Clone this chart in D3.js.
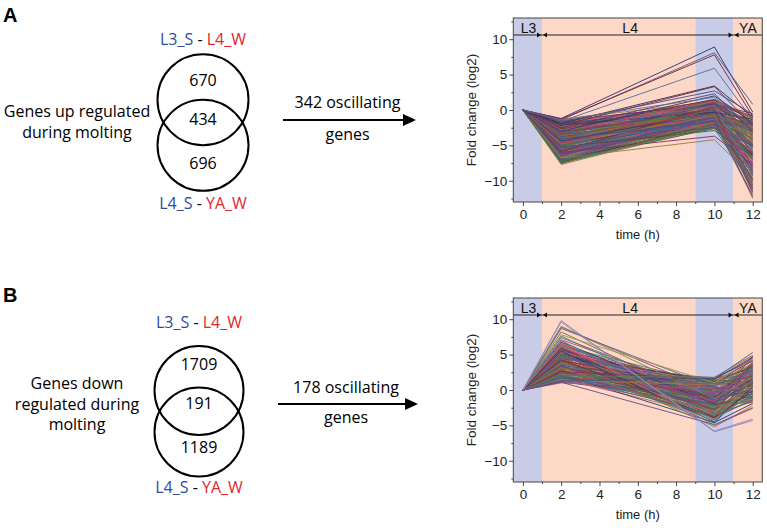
<!DOCTYPE html>
<html><head><meta charset="utf-8">
<script src="https://cdn.jsdelivr.net/npm/d3@7"></script>
<style>body{margin:0;background:#fff}svg{display:block}</style>
</head><body><svg id="c" width="767" height="528"></svg>
<script>
// ---------- data ----------
const timePoints = [0, 2, 10, 12];
const xTicks = [0, 2, 4, 6, 8, 10, 12];
const yTicks = [-10, -5, 0, 5, 10];
const stages = [{name:"L3", from:-0.5, to:1, shade:"blue"}, {name:"L4", from:1, to:9, shade:"red"}, {name:"L4b", from:9, to:11, shade:"blue"}, {name:"YA", from:11, to:12.5, shade:"red"}];
const stageLabels = [{t:"L3", x:0.3}, {t:"L4", x:5.6}, {t:"YA", x:11.75}];
const vennA = {label:["Genes up regulated","during molting"], top:670, mid:434, bottom:696, arrow:"342 oscillating"};
const vennB = {label:["Genes down","regulated during","molting"], top:1709, mid:191, bottom:1189, arrow:"178 oscillating"};
// each gene: log2 fold change at t = 2, 10, 12 (t=0 is 0)
const genesUp = [
[-1.5,-0.9,-3.0],[-1.7,1.0,-2.0],[-2.0,-1.3,-5.2],[-2.3,0.4,-1.6],[-2.6,-2.0,-7.5],[-2.9,1.3,-4.4],[-3.1,-0.2,-2.3],[-3.4,-1.7,-8.4],[-3.6,1.0,-3.1],[-3.9,-0.7,-6.9],
[-4.1,0.9,-1.9],[-4.3,-2.4,-4.7],[-4.5,-0.4,-9.2],[-4.7,1.2,-5.0],[-4.9,-1.1,-2.6],[-5.1,-2.1,-6.3],[-5.3,0.3,-4.1],[-5.5,-0.7,-10.2],[-5.7,-1.9,-3.5],[-5.9,0.9,-7.3],
[-6.1,-0.5,-5.2],[-6.3,-2.2,-8.3],[-6.5,0.0,-3.7],[-6.7,-1.1,-6.5],[-6.9,-2.3,-9.4],[-7.1,-1.6,-4.8],[-7.3,-0.4,-7.6],[-7.5,-2.5,-5.7],[-7.6,-1.0,-9.8],[-7.2,-1.9,-3.9],
[-1.9,0.7,-0.8],[-2.4,-0.1,-3.3],[-2.8,-1.3,-4.6],[-3.3,0.5,-6.1],[-3.7,-2.2,-5.1],[-4.2,-0.1,-8.7],[-4.6,-1.0,-1.8],[-5.0,0.8,-5.9],[-5.4,-1.5,-4.3],[-5.8,-2.3,-7.0],
[-6.2,-0.9,-10.6],[-6.6,0.4,-4.9],[-7.0,-1.3,-8.1],[-2.2,1.4,-2.6],[-3.5,-1.0,-9.9],[-4.8,0.2,-11.3],[-5.6,-0.3,-11.8],[-6.4,-1.8,-12.3],[-3.0,-0.3,-10.9],[-4.0,-1.9,-11.0],
[-2.0,-2.0,-1.5],[-3.2,-2.5,-3.0],[-4.4,1.4,-2.0],[-5.2,1.0,-1.2],[-6.0,-2.6,-5.0],[-6.8,-0.2,-2.8],[-7.4,-0.8,-4.1],[-1.6,-1.6,-6.2],[-2.6,-0.9,-8.9],[-3.8,0.3,-7.9],
[-1.3,1.2,-1.2],[-1.5,0.8,-0.5],[-2.0,0.5,-2.8],[-2.4,1.0,-3.5],[-2.8,0.1,-4.2],[-3.1,-0.4,-5.0],[-3.4,1.4,-1.5],[-3.7,0.3,-6.0],[-4.0,-0.9,-3.2],[-4.3,-1.3,-7.1],
[-4.6,-0.2,-4.8],[-4.9,-1.8,-5.5],[-5.2,-0.6,-8.2],[-5.5,-2.0,-6.8],[-5.8,-1.0,-2.5],[-6.1,-2.3,-7.4],[-6.4,-0.3,-8.8],[-6.7,-1.5,-5.9],[-7.0,-2.4,-9.0],[-7.4,-1.9,-6.3],
[-7.7,-2.2,-8.5],[-1.8,-0.7,-1.9],[-2.2,-1.1,-3.9],[-2.6,0.9,-2.1],[-3.0,-1.6,-6.6],[-3.3,0.0,-3.6],[-3.6,-2.1,-4.5],[-3.9,0.7,-5.3],[-4.2,-0.5,-2.9],[-4.5,1.1,-6.2],
[-4.8,-1.4,-4.0],[-5.1,0.4,-7.7],[-5.4,-2.4,-5.1],[-5.7,-0.1,-3.8],[-6.0,-1.7,-9.6],[-6.3,0.2,-6.9],[-6.6,-2.5,-4.4],[-6.9,-0.8,-7.9],[-7.3,-1.2,-5.6],[-1.6,0.3,-1.4],
[-2.1,-0.3,-2.4],[-2.7,1.5,-1.1],[-3.2,-0.8,-5.7],[-3.8,-1.5,-2.7],[-4.4,0.6,-4.6],[-4.7,-2.2,-8.0],[-5.0,-0.9,-6.4],[-5.3,1.3,-3.3],[-5.6,-1.3,-7.2],[-5.9,-0.4,-5.4],
[-6.2,-2.0,-6.1],[-6.5,-1.0,-8.6],[-2.3,-1.9,-4.9],[-2.9,-0.6,-7.0],[-3.5,0.8,-2.0],[-4.1,-2.3,-5.8],[-4.6,0.1,-3.0],[-5.0,-1.6,-9.1],[-3.9,-1.2,-1.6],[-2.5,-1.5,-6.0],
[-1.9,0.0,-4.3],[-3.0,1.2,-0.9],[-4.4,-0.3,-1.3],[-5.8,0.5,-2.2],[-6.8,-1.8,-3.4],[-7.1,-0.6,-6.7],
[-6.8,-4.2,-9.5],[-6.0,-3.7,-7.8],[-5.2,-2.9,-6.5],[-7.2,-2.6,-10.8],
[-4.8,-0.8,-12.5],[-4.1,-1.6,-12.1],[-3.2,0.2,-11.6],[-6.2,-1.4,-11.2],[-3.6,-0.5,-10.4],[-7.5,-2.1,-10.1],[-5.5,-1.1,-9.8],[-2.8,0.6,-9.3],
[-1.2,8.9,-0.3],[-1.4,8.1,0.8],[-1.3,7.8,-0.9],[-1.6,5.9,-1.4],[-1.9,3.4,-1.0],[-2.2,3.3,-2.2],[-1.7,2.7,-0.6],[-2.5,2.3,-3.1],[-3.0,2.0,-1.8],[-1.4,1.8,-2.5]
];
const genesDown = [
[1.1,-0.9,2.4],[1.3,0.5,-0.7],[1.5,-2.2,1.6],[1.7,1.2,3.2],[1.9,-0.6,-1.0],[2.1,-2.9,2.6],[2.3,0.8,0.5],[2.5,-1.6,3.9],[2.7,-3.3,-0.4],[2.9,1.0,1.8],
[3.1,-0.3,3.0],[3.3,-2.6,-1.4],[3.5,1.2,4.1],[3.7,-1.5,0.9],[3.9,-3.9,1.9],[4.1,0.6,2.9],[4.3,-0.8,-0.9],[4.5,-2.7,3.3],[4.7,1.4,1.1],[4.9,-3.2,0.3],
[5.1,-0.2,4.4],[5.3,-2.1,-0.5],[5.5,0.9,2.0],[5.7,-1.3,3.6],[5.9,-2.9,1.2],[6.1,0.3,-0.2],[6.4,-1.8,4.8],[6.7,-3.4,0.6],[7.1,-0.5,3.0],[7.6,-2.4,1.5],
[8.2,-1.9,2.2],[8.9,-0.3,1.0],[1.2,-1.9,-1.8],[1.6,-3.7,0.8],[2.2,-4.6,-1.9],[2.8,-3.9,2.5],[3.4,-4.1,-0.6],[4.0,-4.7,1.0],[4.6,-5.2,-2.2],[5.0,-4.0,0.0],
[1.4,1.7,4.2],[2.4,1.6,3.1],[3.6,1.7,2.6],[4.4,1.5,4.5],[1.8,0.2,-1.3],[2.6,-1.1,-0.1],[3.8,0.0,1.6],[4.8,-0.9,3.5],[5.6,-0.8,0.7],[6.0,-1.0,2.7],
[6.5,-1.5,2.2],[6.2,0.8,3.6],[6.0,-2.6,0.4],[5.8,-0.3,1.5],[5.6,-3.3,-1.0],[5.4,0.5,4.2],[5.2,-1.8,0.9],[5.0,1.2,3.3],[4.8,-2.2,-1.5],[4.6,-0.6,2.8],
[4.4,-3.6,-0.8],[4.2,0.2,1.2],[4.0,-1.1,3.9],[3.8,-2.9,0.1],[3.6,1.4,2.4],[3.4,-0.9,-0.3],[3.2,-2.4,1.7],[3.0,0.6,4.6],[2.8,-1.4,0.6],[2.6,-3.1,-1.2],
[2.4,0.0,2.0],[2.2,-1.9,3.1],[2.0,-0.4,0.3],[1.8,-2.7,-0.6],[1.6,0.9,1.9],[1.4,-1.6,2.9],[1.2,-0.7,-0.2],[1.0,0.3,1.0],[6.8,-2.0,3.5],[5.9,-3.8,-1.4],
[5.1,-2.5,2.5],[4.5,1.0,0.8],[3.9,-3.4,0.5],[3.3,-1.2,3.7],[2.7,-2.1,-0.9],[2.1,1.1,2.7],[1.5,-3.0,0.0],[4.9,-1.0,1.6],[4.1,-2.8,2.1],[3.5,0.4,-0.4],
[2.9,-3.7,1.3],[2.3,-0.2,3.4],[1.7,-1.3,1.4],[5.3,0.1,0.2],[4.7,-1.7,4.0],[3.7,-2.3,-1.1],[3.1,1.3,0.7],[2.5,-0.5,2.3],[1.9,-2.0,1.1],[6.3,-4.0,-1.3],
[5.5,-4.5,0.4],[4.3,-3.9,-0.1],[3.2,-4.3,1.5],[2.0,-3.5,-1.6],[1.4,0.7,3.8],[2.6,1.5,4.7],
[9.0,-1.2,1.8],[8.7,0.4,3.0],[7.8,1.0,4.4],[7.4,-0.8,2.6],[7.0,-4.2,-0.5],[6.6,-5.0,-2.6],[1.3,1.6,5.3],[2.0,1.8,4.9],[1.1,-4.9,-2.5],
[9.8,-5.9,-4.3],[9.6,-5.8,-4.1]
];
const palette = ["#8b3a4a","#5c4a8c","#a0522d","#5b7a3a","#3b5b8c","#8c5d8c","#b04a5a","#3f7a7a","#7a6a3a","#9a3a8a","#5a5a7a","#c05a6a","#2f3a6a","#7a3030","#6a8a4a","#2a6a8a","#a07a3a","#8a2a5a","#5a4a3a","#3a7a5a","#b0606a","#4a4a90"];

// ---------- drawing ----------
const svg = d3.select("#c");
svg.append("rect").attr("width",767).attr("height",528).attr("fill","#fff");
const BLUE = "#2f4c9c", RED = "#e2262e";
const venFont = "'Open Sans', sans-serif";
const chartFont = "'Liberation Sans', Arial, sans-serif";

function panel(dy, letter, venn, labelBaselines, genes, vennGeom, lastColors) {
  const g = svg.append("g");
  g.append("text").attr("x",3).attr("y",22+dy).attr("font-family",chartFont).attr("font-weight","bold").attr("font-size",20).text(letter);
  const setLbl = (y, a, b) => {
    const t = g.append("text").attr("x",vennGeom.cx).attr("y",y).attr("text-anchor","middle").attr("font-family",venFont).attr("font-size",16);
    t.append("tspan").attr("fill",BLUE).text(a);
    t.append("tspan").attr("fill","#000").text(" - ");
    t.append("tspan").attr("fill",RED).text(b);
  };
  setLbl(vennGeom.topLbl, "L3_S", "L4_W");
  setLbl(vennGeom.botLbl, "L4_S", "YA_W");
  [vennGeom.cy1, vennGeom.cy2].forEach(cy => g.append("circle").attr("cx",vennGeom.cx).attr("cy",cy).attr("r",vennGeom.r).attr("fill","none").attr("stroke","#000").attr("stroke-width",2));
  [[venn.top,vennGeom.n1],[venn.mid,vennGeom.n2],[venn.bottom,vennGeom.n3]].forEach(([v,y]) =>
    g.append("text").attr("x",vennGeom.cx).attr("y",y).attr("text-anchor","middle").attr("font-family",venFont).attr("font-size",16).text(v));
  venn.label.forEach((s,i) => g.append("text").attr("x",77).attr("y",labelBaselines[i]).attr("text-anchor","middle").attr("font-family",venFont).attr("font-size",16).text(s));
  const ag = vennGeom.arrow;
  g.append("line").attr("x1",ag.x1).attr("x2",ag.x2-10).attr("y1",ag.y).attr("y2",ag.y).attr("stroke","#000").attr("stroke-width",2);
  g.append("path").attr("d",`M${ag.x2},${ag.y}L${ag.x2-13},${ag.y-6}L${ag.x2-13},${ag.y+6}Z`).attr("fill","#000");
  g.append("text").attr("x",(ag.x1+ag.x2)/2-2).attr("y",ag.t1).attr("text-anchor","middle").attr("font-family",venFont).attr("font-size",16).text(venn.arrow);
  g.append("text").attr("x",(ag.x1+ag.x2)/2-2).attr("y",ag.t2).attr("text-anchor","middle").attr("font-family",venFont).attr("font-size",16).text("genes");

  const x = d3.scaleLinear().domain([-0.5,12.5]).range([513.3,762.3]);
  const y = d3.scaleLinear().domain([-13,13]).range([202+dy,18+dy]);
  const cg = g.append("g");
  cg.selectAll("rect.st").data(stages).join("rect")
    .attr("x",d=>x(d.from)).attr("width",d=>x(d.to)-x(d.from))
    .attr("y",y(13)).attr("height",y(-13)-y(13))
    .attr("fill",d=>d.shade==="blue"?"#c9cce6":"#fdd8c7");
  const line = d3.line().x((d,i)=>x(timePoints[i])).y(d=>y(d));
  const n = genes.length;
  cg.selectAll("path.gene").data(genes).join("path")
    .attr("d",d=>line([0,...d])).attr("fill","none")
    .attr("stroke",(d,i)=> i >= n-lastColors.length ? lastColors[i-(n-lastColors.length)] : palette[i%palette.length])
    .attr("stroke-width",1).attr("stroke-opacity",0.9);
  const yl = y(10.6);
  cg.append("line").attr("x1",x(-0.5)).attr("x2",x(12.5)).attr("y1",yl).attr("y2",yl).attr("stroke","#222").attr("stroke-width",1);
  [1,11].forEach(t => {
    const xc = x(t);
    cg.append("path").attr("d",`M${xc-1},${yl}L${xc-5},${yl-2.5}L${xc-5},${yl+2.5}Z`).attr("fill","#111");
    cg.append("path").attr("d",`M${xc+1},${yl}L${xc+5},${yl-2.5}L${xc+5},${yl+2.5}Z`).attr("fill","#111");
  });
  stageLabels.forEach(s => cg.append("text").attr("x",x(s.x)).attr("y",yl-1.5).attr("text-anchor","middle").attr("font-family",chartFont).attr("font-size",14).attr("fill","#111").text(s.t));
  cg.append("rect").attr("x",x(-0.5)).attr("y",y(13)).attr("width",x(12.5)-x(-0.5)).attr("height",y(-13)-y(13)).attr("fill","none").attr("stroke","#444").attr("stroke-width",1);
  const xa = cg.append("g").attr("transform",`translate(0,${y(-13)})`)
    .call(d3.axisBottom(x).tickValues(xTicks).tickSize(4).tickPadding(3));
  const xm = cg.append("g").attr("transform",`translate(0,${y(-13)})`)
    .call(d3.axisBottom(x).tickValues([1,3,5,7,9,11]).tickSize(2).tickFormat(""));
  const ya = cg.append("g").attr("transform",`translate(${x(-0.5)},0)`)
    .call(d3.axisLeft(y).tickValues(yTicks).tickSize(4).tickPadding(2));
  const ym = cg.append("g").attr("transform",`translate(${x(-0.5)},0)`)
    .call(d3.axisLeft(y).tickValues([-12.5,-7.5,-2.5,2.5,7.5,12.5]).tickSize(2).tickFormat(""));
  [xa,xm,ya,ym].forEach(a => {
    a.select(".domain").remove();
    a.selectAll("line").attr("stroke","#444");
    a.selectAll("text").attr("font-family",chartFont).attr("font-size",13.5).attr("fill","#222");
  });
  cg.append("text").attr("x",(x(-0.5)+x(12.5))/2).attr("y",239+dy).attr("text-anchor","middle").attr("font-family",chartFont).attr("font-size",13).attr("fill","#222").text("time (h)");
  cg.append("text").attr("transform",`translate(475.5,${(y(13)+y(-13))/2}) rotate(-90)`).attr("text-anchor","middle").attr("font-family",chartFont).attr("font-size",13.5).attr("fill","#222").text("Fold change (log2)");
}

panel(0, "A", vennA, [117,138], genesUp,
  {cx:203, cy1:99.7, cy2:145.3, r:45.5, topLbl:45, botLbl:209, n1:85.5, n2:124.5, n3:168.5,
   arrow:{x1:283, x2:416, y:120, t1:108, t2:140}},
  ["#2b2f6e","#4a5a8c","#7a1f2b","#5a6a9a","#3a2a5a","#6a2a3a","#3b4b8c","#5a3a6a","#2a3a7a","#6a6a8a"]);
panel(280, "B", vennB, [389,410,430], genesDown,
  {cx:199, cy1:390.5, cy2:432, r:44.5, topLbl:328, botLbl:493, n1:369.5, n2:408.5, n3:452.5,
   arrow:{x1:278, x2:418, y:404, t1:393, t2:423}},
  ["#8a8a3a","#4a6a8a","#9a9a4a","#6a6a8a","#3a8a9a","#c06070","#3a5a8a","#5a7a5a","#6a4a8a","#8a7ab0","#9a8ac0"]);
</script></body></html>
